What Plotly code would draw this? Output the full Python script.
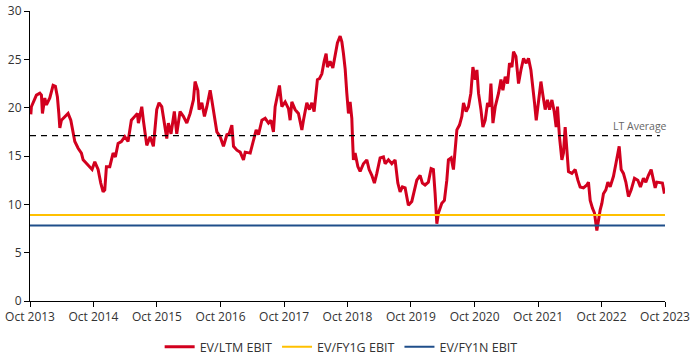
import datetime as dt
import plotly.graph_objects as go

# Decimal-year positions and EV/LTM EBIT values
ltm_years = [
    2013.761, 2013.770, 2013.849, 2013.903, 2013.928, 2013.944, 2013.981, 2014.007, 2014.060, 2014.112,
    2014.148, 2014.180, 2014.202, 2014.218, 2014.243, 2014.296, 2014.348, 2014.391, 2014.427, 2014.454,
    2014.506, 2014.558, 2014.585, 2014.637, 2014.690, 2014.726, 2014.769, 2014.821, 2014.863, 2014.900,
    2014.926, 2014.952, 2015.005, 2015.057, 2015.093, 2015.136, 2015.188, 2015.241, 2015.293, 2015.345,
    2015.399, 2015.440, 2015.456, 2015.509, 2015.534, 2015.588, 2015.640, 2015.692, 2015.745, 2015.781,
    2015.824, 2015.865, 2015.903, 2015.928, 2015.970, 2016.022, 2016.060, 2016.112, 2016.164, 2016.218,
    2016.270, 2016.322, 2016.348, 2016.391, 2016.411, 2016.454, 2016.495, 2016.533, 2016.585, 2016.611,
    2016.652, 2016.690, 2016.742, 2016.794, 2016.848, 2016.884, 2016.926, 2016.952, 2017.005, 2017.057,
    2017.109, 2017.136, 2017.215, 2017.267, 2017.309, 2017.345, 2017.399, 2017.451, 2017.503, 2017.541,
    2017.581, 2017.608, 2017.644, 2017.676, 2017.713, 2017.766, 2017.818, 2017.844, 2017.871, 2017.923,
    2017.975, 2018.029, 2018.054, 2018.107, 2018.148, 2018.186, 2018.222, 2018.274, 2018.306, 2018.344,
    2018.380, 2018.411, 2018.432, 2018.474, 2018.517, 2018.553, 2018.589, 2018.632, 2018.659, 2018.684,
    2018.711, 2018.737, 2018.763, 2018.789, 2018.816, 2018.826, 2018.841, 2018.868, 2018.911, 2018.947,
    2018.999, 2019.052, 2019.089, 2019.131, 2019.172, 2019.210, 2019.262, 2019.314, 2019.341, 2019.393,
    2019.446, 2019.498, 2019.541, 2019.577, 2019.613, 2019.656, 2019.707, 2019.761, 2019.802, 2019.840,
    2019.892, 2019.928, 2019.970, 2020.022, 2020.065, 2020.101, 2020.128, 2020.155, 2020.180, 2020.233,
    2020.274, 2020.312, 2020.337, 2020.380, 2020.416, 2020.443, 2020.470, 2020.511, 2020.548, 2020.574,
    2020.616, 2020.652, 2020.690, 2020.722, 2020.758, 2020.785, 2020.810, 2020.848, 2020.879, 2020.915,
    2020.952, 2020.983, 2021.005, 2021.037, 2021.073, 2021.125, 2021.163, 2021.194, 2021.230, 2021.267,
    2021.298, 2021.336, 2021.361, 2021.399, 2021.440, 2021.478, 2021.519, 2021.561, 2021.597, 2021.635,
    2021.667, 2021.692, 2021.719, 2021.755, 2021.793, 2021.824, 2021.860, 2021.896, 2021.928, 2021.966,
    2022.002, 2022.033, 2022.054, 2022.085, 2022.123, 2022.148, 2022.175, 2022.202, 2022.227, 2022.281,
    2022.333, 2022.375, 2022.411, 2022.463, 2022.517, 2022.542, 2022.569, 2022.605, 2022.637, 2022.674,
    2022.700, 2022.726, 2022.753, 2022.778, 2022.816, 2022.848, 2022.884, 2022.936, 2022.974, 2023.005,
    2023.026, 2023.057, 2023.093, 2023.131, 2023.172, 2023.215, 2023.267, 2023.320, 2023.361, 2023.408,
    2023.446, 2023.487, 2023.530, 2023.566, 2023.593, 2023.619, 2023.671, 2023.707, 2023.739,
]
ltm_values = [
    19.3, 20.1, 21.3, 21.5, 21.3, 19.4, 21.0, 20.3, 21.0, 22.3,
    22.2, 21.1, 19.4, 17.9, 18.7, 19.1, 19.4, 18.7, 17.3, 16.5,
    15.8, 15.3, 14.6, 14.2, 13.9, 13.6, 14.4, 13.6, 12.2, 11.3,
    11.5, 13.9, 13.9, 15.3, 14.9, 16.3, 16.5, 17.0, 16.5, 18.7,
    19.1, 19.4, 18.4, 20.1, 18.7, 16.1, 17.0, 16.0, 19.8, 20.5,
    20.1, 18.4, 16.8, 18.4, 17.3, 19.6, 17.3, 19.6, 19.1, 18.4,
    19.4, 20.8, 22.7, 21.8, 19.8, 20.5, 19.1, 20.1, 21.8, 20.8,
    19.1, 17.5, 17.0, 16.0, 17.2, 17.3, 18.2, 16.0, 15.6, 15.4,
    14.6, 15.4, 15.3, 16.7, 17.7, 17.2, 18.7, 18.9, 18.4, 18.7,
    17.5, 20.1, 21.5, 22.3, 20.1, 20.6, 19.9, 18.7, 20.6, 19.8,
    19.4, 17.7, 18.7, 20.5, 19.8, 20.5, 19.6, 22.9, 23.0, 23.5,
    24.8, 25.6, 24.2, 24.8, 24.1, 25.3, 26.7, 27.4, 26.8, 25.6,
    24.0, 21.5, 19.4, 20.6, 18.9, 17.0, 14.6, 15.3, 13.9, 13.4,
    14.2, 14.6, 13.6, 13.0, 12.2, 13.2, 14.8, 14.9, 14.2, 14.6,
    14.2, 14.6, 12.2, 11.3, 11.8, 11.7, 9.9, 10.3, 11.3, 12.5,
    13.0, 12.2, 12.0, 12.3, 13.7, 13.6, 11.1, 8.0, 9.1, 10.1,
    10.4, 12.5, 14.6, 14.8, 13.6, 15.8, 17.7, 18.2, 19.1, 20.5,
    19.6, 20.1, 21.5, 24.2, 22.9, 23.9, 21.5, 19.8, 18.0, 18.7,
    20.5, 20.1, 22.5, 18.4, 20.1, 21.5, 22.9, 21.8, 23.2, 22.5,
    24.6, 24.2, 25.8, 25.3, 22.5, 23.9, 25.1, 24.6, 25.1, 23.9,
    22.2, 20.5, 18.7, 20.8, 22.7, 21.3, 19.8, 20.8, 19.8, 20.8,
    19.6, 18.0, 20.1, 17.0, 14.6, 15.3, 18.0, 15.6, 13.4, 13.2,
    13.6, 12.5, 11.8, 11.7, 12.0, 12.3, 10.4, 9.6, 9.1, 7.3,
    8.6, 9.4, 10.1, 11.1, 11.5, 12.3, 11.8, 12.9, 14.2, 15.3,
    16.0, 13.6, 13.2, 12.3, 10.8, 11.5, 12.7, 12.5, 11.8, 12.7,
    12.3, 13.0, 13.6, 12.5, 11.7, 12.3, 12.2, 12.2, 11.1,
]
fy1g_value = 8.9
fy1n_value = 7.8
lt_average = 17.1
x_start = "2013-10-01"
x_end = "2023-10-01"
tick_labels = ["Oct 2013", "Oct 2014", "Oct 2015", "Oct 2016", "Oct 2017",
               "Oct 2018", "Oct 2019", "Oct 2020", "Oct 2021", "Oct 2022", "Oct 2023"]
tick_dates = ["2013-10-01", "2014-10-01", "2015-10-01", "2016-10-01", "2017-10-01",
              "2018-10-01", "2019-10-01", "2020-10-01", "2021-10-01", "2022-10-01", "2023-10-01"]


def to_date(y):
    yr = int(y)
    start = dt.datetime(yr, 1, 1)
    days = (dt.datetime(yr + 1, 1, 1) - start).days
    return start + dt.timedelta(days=(y - yr) * days)


ltm_dates = [to_date(v) for v in ltm_years]

FONT = "'Open Sans', sans-serif"
fig = go.Figure()
fig.add_trace(go.Scatter(x=ltm_dates, y=ltm_values, mode="lines", name="EV/LTM EBIT",
                         line=dict(color="#D2001E", width=3)))
fig.add_trace(go.Scatter(x=[x_start, x_end], y=[fy1g_value, fy1g_value], mode="lines",
                         name="EV/FY1G EBIT", line=dict(color="#FFC000", width=2)))
fig.add_trace(go.Scatter(x=[x_start, x_end], y=[fy1n_value, fy1n_value], mode="lines",
                         name="EV/FY1N EBIT", line=dict(color="#1F4E8A", width=2)))
fig.add_trace(go.Scatter(x=[x_start, "2023-09-01"], y=[lt_average, lt_average], mode="lines",
                         name="LT Average", showlegend=False,
                         line=dict(color="black", width=1.2, dash="6px,5px")))
fig.add_annotation(x=x_end, y=lt_average, xref="x", yref="y", text="LT Average",
                   showarrow=False, xanchor="right", yanchor="bottom", xshift=4, yshift=1,
                   font=dict(family=FONT, size=10.5, color="#666666"))

fig.update_layout(
    width=697, height=357,
    margin=dict(l=30, r=32, t=11, b=56, autoexpand=False),
    paper_bgcolor="white", plot_bgcolor="white",
    font=dict(family=FONT, size=12, color="#333333"),
    showlegend=True,
    legend=dict(orientation="h", x=0.49, xanchor="center", y=-0.159, yanchor="middle",
                font=dict(family=FONT, size=12.5, color="#333333"),
                itemwidth=30, tracegroupgap=0),
    xaxis=dict(range=[x_start, x_end], tickvals=tick_dates, ticktext=tick_labels,
               automargin=False,
               showgrid=False, zeroline=False, showline=True, linecolor="black", linewidth=1,
               ticks="outside", ticklen=5, tickcolor="black"),
    yaxis=dict(range=[0, 30], tick0=0, dtick=5, showgrid=False, zeroline=False,
               automargin=False,
               showline=True, linecolor="black", linewidth=1,
               ticks="outside", ticklen=5, tickcolor="black"),
)

fig.write_html("out.html", config={"displayModeBar": False},
               post_script="document.body.style.margin='0';")
